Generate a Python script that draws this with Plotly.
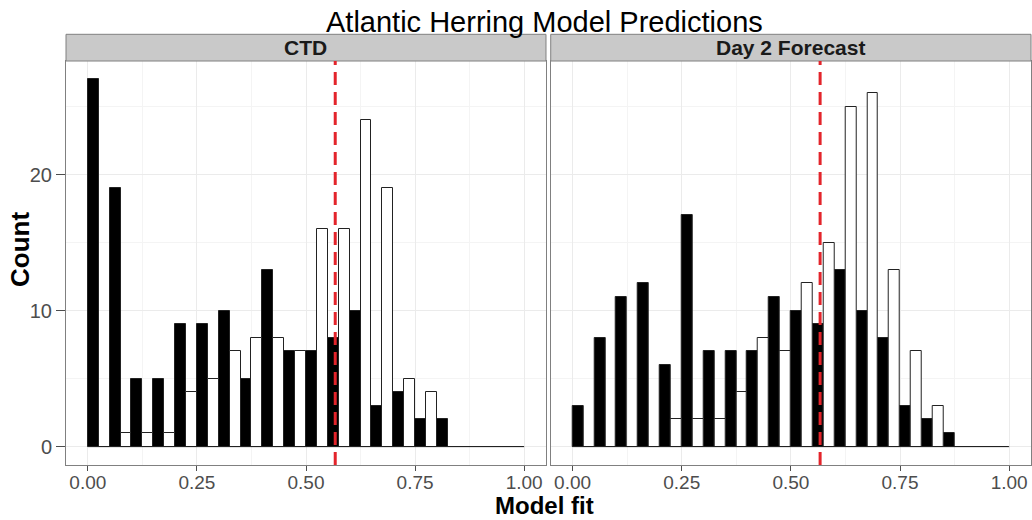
import plotly.graph_objects as go

# ---- data ----
bin_start = [0.00, 0.05, 0.10, 0.15, 0.20, 0.25, 0.30, 0.35, 0.40, 0.45,
             0.50, 0.55, 0.60, 0.65, 0.70, 0.75, 0.80, 0.85, 0.90, 0.95]
bin_width = 0.05
panels = ["CTD", "Day 2 Forecast"]
ctd_absent = [27, 19, 5, 5, 9, 9, 10, 5, 13, 7, 7, 8, 10, 3, 4, 2, 2, 0, 0, 0]
ctd_present = [0, 1, 1, 1, 4, 5, 7, 8, 8, 7, 16, 16, 24, 19, 5, 4, 0, 0, 0, 0]
day2_absent = [3, 8, 11, 12, 6, 17, 7, 7, 7, 11, 10, 9, 13, 10, 8, 3, 2, 1, 0, 0]
day2_present = [0, 0, 0, 0, 2, 2, 2, 4, 8, 7, 12, 15, 25, 26, 13, 7, 3, 0, 0, 0]
threshold = 0.567
x_ticks = [0.0, 0.25, 0.5, 0.75, 1.0]
x_ticktext = ["0.00", "0.25", "0.50", "0.75", "1.00"]
y_ticks = [0, 10, 20]

FONT = "Liberation Sans, Arial, sans-serif"
TICKC = "#4D4D4D"
GRID = "#EBEBEB"
MINOR = "#F4F4F4"
BORDER = "#808080"

fig = go.Figure()
half = bin_width / 2
series = [(ctd_absent, ctd_present), (day2_absent, day2_present)]
for i, (absent, present) in enumerate(series):
    xa = "x" if i == 0 else "x2"
    ya = "y" if i == 0 else "y2"
    # outline of the (zero-height) bins along the baseline
    fig.add_trace(go.Scatter(x=[bin_start[0], bin_start[-1] + bin_width], y=[0, 0],
                             mode="lines", line=dict(color="#222222", width=1),
                             xaxis=xa, yaxis=ya, showlegend=False, hoverinfo="skip"))
    fig.add_trace(go.Bar(x=[b + half / 2 for b in bin_start], y=absent, width=half,
                         marker=dict(color="black", line=dict(color="#222222", width=1)),
                         xaxis=xa, yaxis=ya, showlegend=False))
    fig.add_trace(go.Bar(x=[b + 3 * half / 2 for b in bin_start], y=present, width=half,
                         marker=dict(color="white", line=dict(color="#222222", width=1)),
                         xaxis=xa, yaxis=ya, showlegend=False))

common_x = dict(range=[-0.05, 1.05], tickvals=x_ticks, ticktext=x_ticktext,
                tickfont=dict(size=19, color=TICKC, family=FONT),
                ticks="outside", ticklen=5, tickcolor=TICKC, tickwidth=1,
                ticklabelstandoff=-5,
                showgrid=True, gridcolor=GRID, gridwidth=1,
                minor=dict(dtick=0.125, tick0=0, showgrid=True, gridcolor=MINOR, ticks=""),
                showline=True, linecolor=BORDER, linewidth=1, mirror=True, zeroline=False,
                fixedrange=True)
common_y = dict(range=[-1.35, 28.35], tickvals=y_ticks,
                showgrid=True, gridcolor=GRID, gridwidth=1,
                minor=dict(dtick=5, tick0=0, showgrid=True, gridcolor=MINOR, ticks=""),
                showline=True, linecolor=BORDER, linewidth=1, mirror=True, zeroline=False,
                fixedrange=True)

fig.update_layout(
    width=1032, height=520,
    margin=dict(l=66, r=1, t=61, b=55),
    paper_bgcolor="white", plot_bgcolor="white",
    barmode="overlay", bargap=0,
    font=dict(family=FONT, color="black"),
    xaxis=dict(domain=[0, 0.4974], anchor="y", **common_x),
    xaxis2=dict(domain=[0.5023, 1], anchor="y2", **common_x),
    yaxis=dict(domain=[0, 1], anchor="x", ticks="outside", ticklen=9, tickcolor=TICKC,
               tickfont=dict(size=20, color=TICKC, family=FONT), **common_y),
    yaxis2=dict(domain=[0, 1], anchor="x2", showticklabels=False, ticks="", **common_y),
)

shapes = []
annotations = []
strip_top = 1 + (61 - 34.3) / 404
for i, name in enumerate(panels):
    xr = "x domain" if i == 0 else "x2 domain"
    shapes.append(dict(type="rect", xref=xr, yref="paper", x0=0, x1=1, y0=1, y1=strip_top,
                       fillcolor="#C9C9C9", line=dict(color=BORDER, width=1), layer="above"))
    annotations.append(dict(text="<b>%s</b>" % name, xref=xr, yref="paper", x=0.5,
                            y=1 + (61 - 47.5) / 404, xanchor="center", yanchor="middle",
                            showarrow=False, font=dict(size=21, color="#1A1A1A", family=FONT)))
    xl = "x" if i == 0 else "x2"
    shapes.append(dict(type="line", xref=xl, yref="paper", x0=threshold, x1=threshold,
                       y0=0, y1=1, line=dict(color="#E3242B", width=3, dash="13px,7px"),
                       layer="above"))

annotations.append(dict(text="Atlantic Herring Model Predictions", xref="paper", yref="paper",
                        x=0.4959, y=1 + (61 - 21.5) / 404, xanchor="center", yanchor="middle",
                        showarrow=False, font=dict(size=29, color="black", family=FONT)))
annotations.append(dict(text="<b>Model fit</b>", xref="paper", yref="paper",
                        x=0.4959, y=(465 - 505.5) / 404, xanchor="center", yanchor="middle",
                        showarrow=False, font=dict(size=24, color="black", family=FONT)))
annotations.append(dict(text="<b>Count</b>", xref="paper", yref="paper", textangle=-90,
                        x=(19.5 - 66) / 965, y=(465 - 249.5) / 404, xanchor="center",
                        yanchor="middle", showarrow=False,
                        font=dict(size=26, color="black", family=FONT)))

fig.update_layout(shapes=shapes, annotations=annotations)
fig.write_html("out.html")
